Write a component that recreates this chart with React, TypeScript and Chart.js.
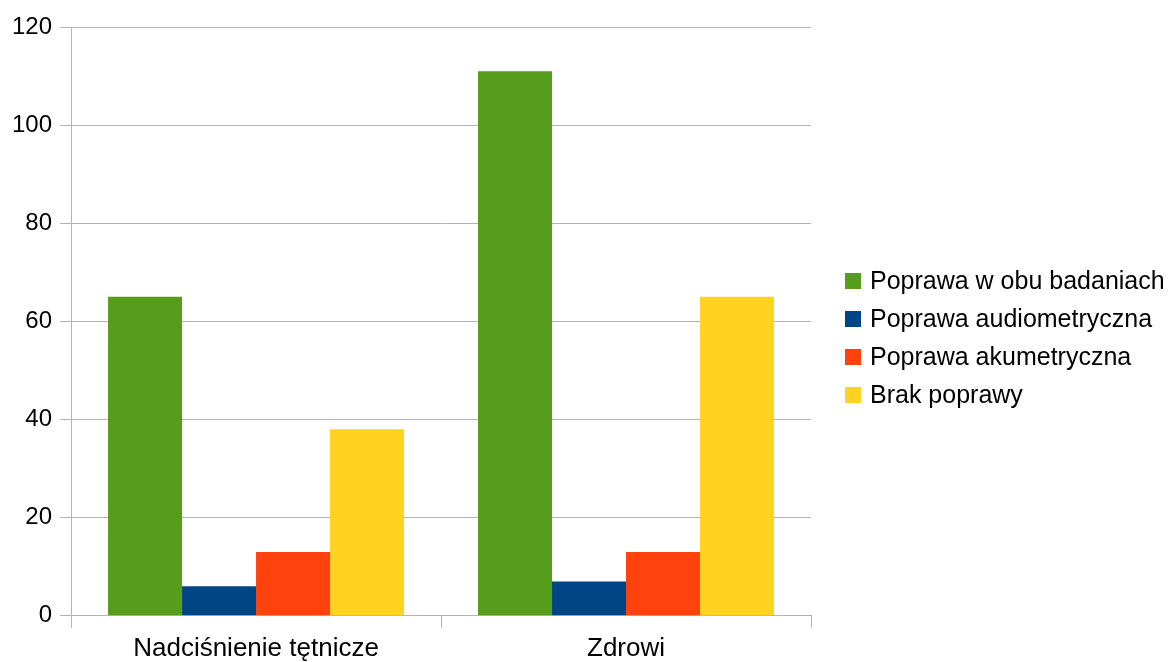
import React, { useEffect, useRef } from "react";
import { Chart, registerables } from "chart.js";

Chart.register(...registerables);

const categories = ["Nadciśnienie tętnicze", "Zdrowi"];
const seriesNames = [
  "Poprawa w obu badaniach",
  "Poprawa audiometryczna",
  "Poprawa akumetryczna",
  "Brak poprawy",
];
const obaBadania = [65, 111];
const audiometryczna = [6, 7];
const akumetryczna = [13, 13];
const brakPoprawy = [38, 65];
const seriesColors = ["#579d1c", "#004586", "#ff420e", "#ffd320"];
const yTicks = [0, 20, 40, 60, 80, 100, 120];

const FONT = "'Liberation Sans', Arial, sans-serif";
const GRID = "#b3b3b3";

const sideLegend = {
  id: "sideLegend",
  afterDraw(chart: any) {
    const ctx = chart.ctx;
    const items = chart.data.datasets;
    const boxX = chart.chartArea.right + 34;
    const startY = 281;
    const step = 38;
    ctx.save();
    ctx.font = `25px ${FONT}`;
    ctx.textBaseline = "middle";
    ctx.textAlign = "left";
    items.forEach((ds: any, i: number) => {
      const cy = startY + i * step;
      ctx.fillStyle = ds.backgroundColor;
      ctx.fillRect(boxX, cy - 8, 16, 16);
      ctx.fillStyle = "#000";
      ctx.fillText(ds.label, boxX + 25, cy + 1);
    });
    ctx.restore();
  },
};

export default function App() {
  const ref = useRef<HTMLCanvasElement | null>(null);
  useEffect(() => {
    if (!ref.current) return;
    const values = [obaBadania, audiometryczna, akumetryczna, brakPoprawy];
    const chart = new Chart(ref.current, {
      type: "bar",
      data: {
        labels: categories,
        datasets: seriesNames.map((name, i) => ({
          label: name,
          data: values[i],
          backgroundColor: seriesColors[i],
          borderWidth: 0,
          categoryPercentage: 0.8,
          barPercentage: 1.0,
        })),
      },
      plugins: [sideLegend],
      options: {
        responsive: false,
        animation: false,
        layout: { padding: { top: 27, left: 4, right: 363, bottom: -7 } },
        plugins: {
          tooltip: { enabled: false },
          legend: { display: false },
        },
        scales: {
          x: {
            offset: true,
            grid: {
              offset: true,
              drawOnChartArea: true,
              color: (ctx: any) =>
                ctx.index === 0 || ctx.index === categories.length ? GRID : "rgba(0,0,0,0)",
              tickColor: GRID,
              tickLength: 12,
              lineWidth: 1,
            },
            border: { display: true, color: GRID },
            ticks: {
              color: "#000",
              font: { family: FONT, size: 26 },
              padding: 5,
              maxRotation: 0,
            },
          },
          y: {
            min: yTicks[0],
            max: yTicks[yTicks.length - 1],
            afterBuildTicks: (axis: any) => {
              axis.ticks = yTicks.map((v) => ({ value: v }));
            },
            grid: { color: GRID, tickColor: GRID, tickLength: 11, lineWidth: 1 },
            border: { display: true, color: GRID },
            ticks: {
              color: "#000",
              font: { family: FONT, size: 24 },
              padding: 8,
            },
          },
        },
      },
    });
    return () => chart.destroy();
  }, []);
  return (
    <div style={{ position: "absolute", left: 0, top: 0, width: 1174, height: 662, background: "#fff" }}>
      <canvas ref={ref} width={1174} height={662} style={{ display: "block" }} />
    </div>
  );
}
